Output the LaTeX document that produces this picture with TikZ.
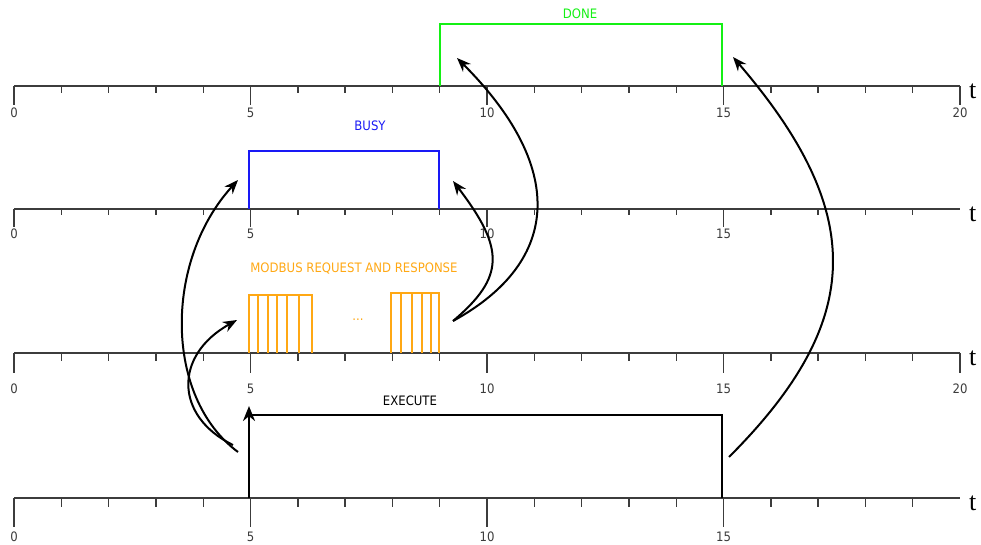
\documentclass[tikz,border=0pt]{standalone}
\usepackage{fontspec}
\setmainfont{DejaVu Sans Condensed}
\newfontfamily\tfont{Liberation Serif}
\usetikzlibrary{arrows.meta}
\definecolor{axisgray}{RGB}{60,60,60}
\definecolor{donegreen}{RGB}{20,240,20}
\definecolor{busyblue}{RGB}{25,25,245}
\definecolor{modorange}{RGB}{255,168,20}
\newcommand\tlaxis[6]{%
  \draw[axisline] (14,#1) -- (960,#1);
  \foreach \i in {1,2,3,4,6,7,8,9,11,12,13,14,16,17,18,19}
    \draw[axisline] ({14+47.3*\i},#1) -- ++(0,#2);
  \foreach \i in #5 {
    \draw[axisline] ({14+47.3*\i},#1) -- ++(0,#3);
    \node[lbl] (#6l\i) at ({14+47.3*\i},{#1+#4}) {\i};
  }
  \node[tlbl] (#6t) at (969,{#1+12}) {t};
}
\begin{document}
\begin{tikzpicture}[x=1pt,y=-1pt,
  axisline/.style={draw=axisgray,line width=1.4pt},
  lbl/.style={font=\fontsize{13}{14}\selectfont, text=axisgray, inner sep=0pt},
  sigtext/.style={font=\fontsize{13}{14}\selectfont, inner sep=0pt},
  tlbl/.style={font=\fontsize{26}{28}\selectfont\tfont, inner sep=0pt, anchor=base west},
  sig/.style={line width=2.4pt},
  modsig/.style={line width=2pt, draw=modorange},
  cause/.style={line width=2pt, -{Stealth[length=14pt,width=11pt]}},
]
\useasboundingbox (0,0) rectangle (981,544);

% axes
\tlaxis{86}{7}{19}{27}{{0,5,10,15,20}}{a}
\tlaxis{209}{6}{18}{25}{{0,5,10,15}}{b}
\tlaxis{353}{8}{20}{36}{{0,5,10,15,20}}{c}
\tlaxis{498}{9}{29}{39}{{0,5,10,15}}{d}

% DONE
\draw[sig, donegreen] (440,86) -- (440,24) -- (722,24) -- (722,86);
\node[sigtext, text=donegreen] (done) at (580,14) {DONE};

% BUSY
\draw[sig, busyblue] (249,209) -- (249,151) -- (439,151) -- (439,209);
\node[sigtext, text=busyblue] (busy) at (370,126) {BUSY};

% MODBUS
\draw[modsig] (249,353) -- (249,295) -- (312,295) -- (312,353);
\foreach \x in {258,268,277,287,299} \draw[modsig] (\x,295) -- (\x,353);
\draw[modsig] (391,353) -- (391,293) -- (439,293) -- (439,353);
\foreach \x in {401,412,422,431} \draw[modsig] (\x,293) -- (\x,353);
\node[sigtext, text=modorange] (dots) at (358,320) {...};
\node[sigtext, text=modorange] (modbus) at (354,269) {MODBUS REQUEST AND RESPONSE};

% EXECUTE
\draw[sig] (249,415) -- (722,415) -- (722,498);
\draw[sig, -{Stealth[length=15pt,width=12pt]}] (249,498) -- (249,406);
\node[sigtext] (execute) at (410,401) {EXECUTE};

% cause arrows
\coordinate (exA) at (238,452);
\coordinate (exB) at (233,445);
\coordinate (busyR) at (238,180);
\coordinate (modR) at (237,320);
\coordinate (modE) at (453,321);
\coordinate (busyF) at (453,181);
\coordinate (doneR) at (457,58);
\coordinate (exF) at (729,457);
\coordinate (doneF) at (733,57);

\draw[cause] (exA) .. controls (164,397) and (164,261) .. (busyR);
\draw[cause] (exB) .. controls (174,416) and (174,355) .. (modR);
\draw[cause] (modE) .. controls (505,277) and (505,249) .. (busyF);
\draw[cause] (modE) .. controls (564,260) and (564,165) .. (doneR);
\draw[cause] (exF) .. controls (866,320) and (866,212) .. (doneF);
\end{tikzpicture}
\end{document}
